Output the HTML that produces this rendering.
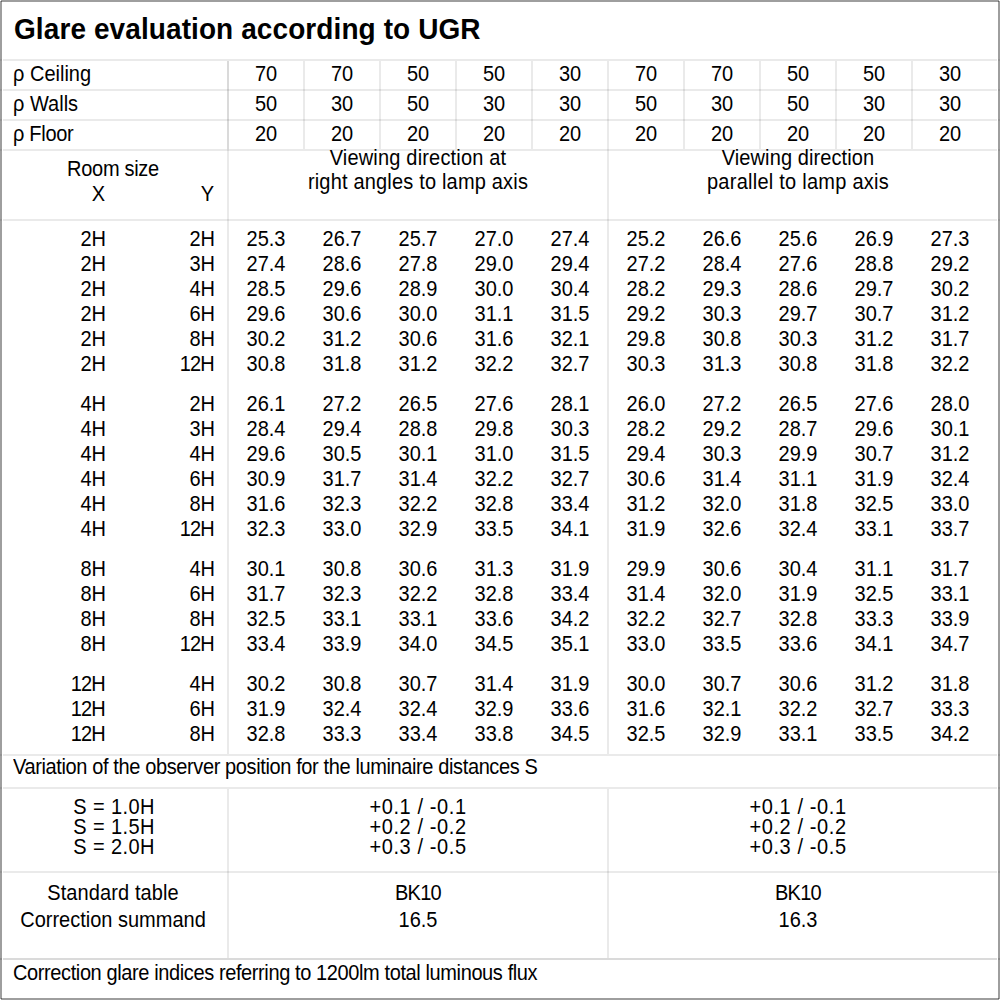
<!DOCTYPE html>
<html><head><meta charset="utf-8"><title>Glare evaluation according to UGR</title>
<style>
html,body{margin:0;padding:0;background:#fff;}
body{width:1000px;height:1000px;position:relative;overflow:hidden;}
i{position:absolute;display:block;}
.t{position:absolute;font-family:"Liberation Sans",sans-serif;font-weight:normal;font-size:20px;line-height:20px;color:#000;white-space:nowrap;transform:scaleY(1.07);transform-origin:0 17px;}
.ttl{font-weight:bold;font-size:28px;line-height:28px;letter-spacing:0.09px;transform:scaleY(1.04);transform-origin:0 23px;}
</style></head>
<body>
<i style="left:1px;top:0;width:998px;height:2px;background:rgba(0,0,0,0.38)"></i>
<i style="left:0;top:1px;width:2px;height:998px;background:rgba(0,0,0,0.38)"></i>
<i style="left:998px;top:1px;width:2px;height:998px;background:rgba(0,0,0,0.38)"></i>
<i style="left:1px;top:998px;width:998px;height:2px;background:rgba(0,0,0,0.38)"></i>
<i style="left:3px;top:59px;width:994px;height:2px;background:rgba(0,0,0,0.082)"></i>
<i style="left:0px;top:59px;width:2px;height:2px;background:rgba(0,0,0,0.082)"></i>
<i style="left:998px;top:59px;width:2px;height:2px;background:rgba(0,0,0,0.082)"></i>
<i style="left:3px;top:89px;width:994px;height:2px;background:rgba(0,0,0,0.082)"></i>
<i style="left:0px;top:89px;width:2px;height:2px;background:rgba(0,0,0,0.082)"></i>
<i style="left:998px;top:89px;width:2px;height:2px;background:rgba(0,0,0,0.082)"></i>
<i style="left:3px;top:119px;width:994px;height:2px;background:rgba(0,0,0,0.082)"></i>
<i style="left:0px;top:119px;width:2px;height:2px;background:rgba(0,0,0,0.082)"></i>
<i style="left:998px;top:119px;width:2px;height:2px;background:rgba(0,0,0,0.082)"></i>
<i style="left:3px;top:149px;width:994px;height:2px;background:rgba(0,0,0,0.082)"></i>
<i style="left:0px;top:149px;width:2px;height:2px;background:rgba(0,0,0,0.082)"></i>
<i style="left:998px;top:149px;width:2px;height:2px;background:rgba(0,0,0,0.082)"></i>
<i style="left:3px;top:219px;width:994px;height:2px;background:rgba(0,0,0,0.082)"></i>
<i style="left:0px;top:219px;width:2px;height:2px;background:rgba(0,0,0,0.082)"></i>
<i style="left:998px;top:219px;width:2px;height:2px;background:rgba(0,0,0,0.082)"></i>
<i style="left:3px;top:754px;width:994px;height:2px;background:rgba(0,0,0,0.082)"></i>
<i style="left:0px;top:754px;width:2px;height:2px;background:rgba(0,0,0,0.082)"></i>
<i style="left:998px;top:754px;width:2px;height:2px;background:rgba(0,0,0,0.082)"></i>
<i style="left:3px;top:787px;width:994px;height:2px;background:rgba(0,0,0,0.082)"></i>
<i style="left:0px;top:787px;width:2px;height:2px;background:rgba(0,0,0,0.082)"></i>
<i style="left:998px;top:787px;width:2px;height:2px;background:rgba(0,0,0,0.082)"></i>
<i style="left:3px;top:871px;width:994px;height:2px;background:rgba(0,0,0,0.082)"></i>
<i style="left:0px;top:871px;width:2px;height:2px;background:rgba(0,0,0,0.082)"></i>
<i style="left:998px;top:871px;width:2px;height:2px;background:rgba(0,0,0,0.082)"></i>
<i style="left:3px;top:958px;width:994px;height:2px;background:rgba(0,0,0,0.145)"></i>
<i style="left:0px;top:958px;width:2px;height:2px;background:rgba(0,0,0,0.145)"></i>
<i style="left:998px;top:958px;width:2px;height:2px;background:rgba(0,0,0,0.145)"></i>
<i style="left:303px;top:61px;width:2px;height:88px;background:rgba(0,0,0,0.082)"></i>
<i style="left:379px;top:61px;width:2px;height:88px;background:rgba(0,0,0,0.082)"></i>
<i style="left:455px;top:61px;width:2px;height:88px;background:rgba(0,0,0,0.082)"></i>
<i style="left:531px;top:61px;width:2px;height:88px;background:rgba(0,0,0,0.082)"></i>
<i style="left:683px;top:61px;width:2px;height:88px;background:rgba(0,0,0,0.082)"></i>
<i style="left:759px;top:61px;width:2px;height:88px;background:rgba(0,0,0,0.082)"></i>
<i style="left:835px;top:61px;width:2px;height:88px;background:rgba(0,0,0,0.082)"></i>
<i style="left:911px;top:61px;width:2px;height:88px;background:rgba(0,0,0,0.082)"></i>
<i style="left:227px;top:61px;width:2px;height:88px;background:rgba(0,0,0,0.145)"></i>
<i style="left:227px;top:149px;width:2px;height:605px;background:rgba(0,0,0,0.082)"></i>
<i style="left:607px;top:61px;width:2px;height:693px;background:rgba(0,0,0,0.082)"></i>
<i style="left:227px;top:789px;width:2px;height:169px;background:rgba(0,0,0,0.082)"></i>
<i style="left:607px;top:789px;width:2px;height:169px;background:rgba(0,0,0,0.082)"></i>
<b class="t ttl" style="left:14px;top:16px">Glare evaluation according to UGR</b>
<b class="t" style="left:13px;top:64px">ρ Ceiling</b>
<b class="t" style="left:116px;top:64px;width:300px;text-align:center">70</b>
<b class="t" style="left:192px;top:64px;width:300px;text-align:center">70</b>
<b class="t" style="left:268px;top:64px;width:300px;text-align:center">50</b>
<b class="t" style="left:344px;top:64px;width:300px;text-align:center">50</b>
<b class="t" style="left:420px;top:64px;width:300px;text-align:center">30</b>
<b class="t" style="left:496px;top:64px;width:300px;text-align:center">70</b>
<b class="t" style="left:572px;top:64px;width:300px;text-align:center">70</b>
<b class="t" style="left:648px;top:64px;width:300px;text-align:center">50</b>
<b class="t" style="left:724px;top:64px;width:300px;text-align:center">50</b>
<b class="t" style="left:800px;top:64px;width:300px;text-align:center">30</b>
<b class="t" style="left:13px;top:94px">ρ Walls</b>
<b class="t" style="left:116px;top:94px;width:300px;text-align:center">50</b>
<b class="t" style="left:192px;top:94px;width:300px;text-align:center">30</b>
<b class="t" style="left:268px;top:94px;width:300px;text-align:center">50</b>
<b class="t" style="left:344px;top:94px;width:300px;text-align:center">30</b>
<b class="t" style="left:420px;top:94px;width:300px;text-align:center">30</b>
<b class="t" style="left:496px;top:94px;width:300px;text-align:center">50</b>
<b class="t" style="left:572px;top:94px;width:300px;text-align:center">30</b>
<b class="t" style="left:648px;top:94px;width:300px;text-align:center">50</b>
<b class="t" style="left:724px;top:94px;width:300px;text-align:center">30</b>
<b class="t" style="left:800px;top:94px;width:300px;text-align:center">30</b>
<b class="t" style="left:13px;top:124px;letter-spacing:-0.3px">ρ Floor</b>
<b class="t" style="left:116px;top:124px;width:300px;text-align:center">20</b>
<b class="t" style="left:192px;top:124px;width:300px;text-align:center">20</b>
<b class="t" style="left:268px;top:124px;width:300px;text-align:center">20</b>
<b class="t" style="left:344px;top:124px;width:300px;text-align:center">20</b>
<b class="t" style="left:420px;top:124px;width:300px;text-align:center">20</b>
<b class="t" style="left:496px;top:124px;width:300px;text-align:center">20</b>
<b class="t" style="left:572px;top:124px;width:300px;text-align:center">20</b>
<b class="t" style="left:648px;top:124px;width:300px;text-align:center">20</b>
<b class="t" style="left:724px;top:124px;width:300px;text-align:center">20</b>
<b class="t" style="left:800px;top:124px;width:300px;text-align:center">20</b>
<b class="t" style="left:-37px;top:159px;width:300px;text-align:center;letter-spacing:-0.3px">Room size</b>
<b class="t" style="left:-45px;top:184px;width:150px;text-align:right">X</b>
<b class="t" style="left:64px;top:184px;width:150px;text-align:right">Y</b>
<b class="t" style="left:268px;top:148px;width:300px;text-align:center;letter-spacing:0.18px">Viewing direction at</b>
<b class="t" style="left:268px;top:172px;width:300px;text-align:center;letter-spacing:0.18px">right angles to lamp axis</b>
<b class="t" style="left:648px;top:148px;width:300px;text-align:center;letter-spacing:0.1px">Viewing direction</b>
<b class="t" style="left:648px;top:172px;width:300px;text-align:center;letter-spacing:0.25px">parallel to lamp axis</b>
<b class="t" style="left:-44px;top:229px;width:150px;text-align:right">2H</b>
<b class="t" style="left:65px;top:229px;width:150px;text-align:right">2H</b>
<b class="t" style="left:116px;top:229px;width:300px;text-align:center">25.3</b>
<b class="t" style="left:192px;top:229px;width:300px;text-align:center">26.7</b>
<b class="t" style="left:268px;top:229px;width:300px;text-align:center">25.7</b>
<b class="t" style="left:344px;top:229px;width:300px;text-align:center">27.0</b>
<b class="t" style="left:420px;top:229px;width:300px;text-align:center">27.4</b>
<b class="t" style="left:496px;top:229px;width:300px;text-align:center">25.2</b>
<b class="t" style="left:572px;top:229px;width:300px;text-align:center">26.6</b>
<b class="t" style="left:648px;top:229px;width:300px;text-align:center">25.6</b>
<b class="t" style="left:724px;top:229px;width:300px;text-align:center">26.9</b>
<b class="t" style="left:800px;top:229px;width:300px;text-align:center">27.3</b>
<b class="t" style="left:-44px;top:254px;width:150px;text-align:right">2H</b>
<b class="t" style="left:65px;top:254px;width:150px;text-align:right">3H</b>
<b class="t" style="left:116px;top:254px;width:300px;text-align:center">27.4</b>
<b class="t" style="left:192px;top:254px;width:300px;text-align:center">28.6</b>
<b class="t" style="left:268px;top:254px;width:300px;text-align:center">27.8</b>
<b class="t" style="left:344px;top:254px;width:300px;text-align:center">29.0</b>
<b class="t" style="left:420px;top:254px;width:300px;text-align:center">29.4</b>
<b class="t" style="left:496px;top:254px;width:300px;text-align:center">27.2</b>
<b class="t" style="left:572px;top:254px;width:300px;text-align:center">28.4</b>
<b class="t" style="left:648px;top:254px;width:300px;text-align:center">27.6</b>
<b class="t" style="left:724px;top:254px;width:300px;text-align:center">28.8</b>
<b class="t" style="left:800px;top:254px;width:300px;text-align:center">29.2</b>
<b class="t" style="left:-44px;top:279px;width:150px;text-align:right">2H</b>
<b class="t" style="left:65px;top:279px;width:150px;text-align:right">4H</b>
<b class="t" style="left:116px;top:279px;width:300px;text-align:center">28.5</b>
<b class="t" style="left:192px;top:279px;width:300px;text-align:center">29.6</b>
<b class="t" style="left:268px;top:279px;width:300px;text-align:center">28.9</b>
<b class="t" style="left:344px;top:279px;width:300px;text-align:center">30.0</b>
<b class="t" style="left:420px;top:279px;width:300px;text-align:center">30.4</b>
<b class="t" style="left:496px;top:279px;width:300px;text-align:center">28.2</b>
<b class="t" style="left:572px;top:279px;width:300px;text-align:center">29.3</b>
<b class="t" style="left:648px;top:279px;width:300px;text-align:center">28.6</b>
<b class="t" style="left:724px;top:279px;width:300px;text-align:center">29.7</b>
<b class="t" style="left:800px;top:279px;width:300px;text-align:center">30.2</b>
<b class="t" style="left:-44px;top:304px;width:150px;text-align:right">2H</b>
<b class="t" style="left:65px;top:304px;width:150px;text-align:right">6H</b>
<b class="t" style="left:116px;top:304px;width:300px;text-align:center">29.6</b>
<b class="t" style="left:192px;top:304px;width:300px;text-align:center">30.6</b>
<b class="t" style="left:268px;top:304px;width:300px;text-align:center">30.0</b>
<b class="t" style="left:344px;top:304px;width:300px;text-align:center">31.1</b>
<b class="t" style="left:420px;top:304px;width:300px;text-align:center">31.5</b>
<b class="t" style="left:496px;top:304px;width:300px;text-align:center">29.2</b>
<b class="t" style="left:572px;top:304px;width:300px;text-align:center">30.3</b>
<b class="t" style="left:648px;top:304px;width:300px;text-align:center">29.7</b>
<b class="t" style="left:724px;top:304px;width:300px;text-align:center">30.7</b>
<b class="t" style="left:800px;top:304px;width:300px;text-align:center">31.2</b>
<b class="t" style="left:-44px;top:329px;width:150px;text-align:right">2H</b>
<b class="t" style="left:65px;top:329px;width:150px;text-align:right">8H</b>
<b class="t" style="left:116px;top:329px;width:300px;text-align:center">30.2</b>
<b class="t" style="left:192px;top:329px;width:300px;text-align:center">31.2</b>
<b class="t" style="left:268px;top:329px;width:300px;text-align:center">30.6</b>
<b class="t" style="left:344px;top:329px;width:300px;text-align:center">31.6</b>
<b class="t" style="left:420px;top:329px;width:300px;text-align:center">32.1</b>
<b class="t" style="left:496px;top:329px;width:300px;text-align:center">29.8</b>
<b class="t" style="left:572px;top:329px;width:300px;text-align:center">30.8</b>
<b class="t" style="left:648px;top:329px;width:300px;text-align:center">30.3</b>
<b class="t" style="left:724px;top:329px;width:300px;text-align:center">31.2</b>
<b class="t" style="left:800px;top:329px;width:300px;text-align:center">31.7</b>
<b class="t" style="left:-44px;top:354px;width:150px;text-align:right">2H</b>
<b class="t" style="left:64px;top:354px;width:150px;text-align:right;letter-spacing:-0.8px">12H</b>
<b class="t" style="left:116px;top:354px;width:300px;text-align:center">30.8</b>
<b class="t" style="left:192px;top:354px;width:300px;text-align:center">31.8</b>
<b class="t" style="left:268px;top:354px;width:300px;text-align:center">31.2</b>
<b class="t" style="left:344px;top:354px;width:300px;text-align:center">32.2</b>
<b class="t" style="left:420px;top:354px;width:300px;text-align:center">32.7</b>
<b class="t" style="left:496px;top:354px;width:300px;text-align:center">30.3</b>
<b class="t" style="left:572px;top:354px;width:300px;text-align:center">31.3</b>
<b class="t" style="left:648px;top:354px;width:300px;text-align:center">30.8</b>
<b class="t" style="left:724px;top:354px;width:300px;text-align:center">31.8</b>
<b class="t" style="left:800px;top:354px;width:300px;text-align:center">32.2</b>
<b class="t" style="left:-44px;top:394px;width:150px;text-align:right">4H</b>
<b class="t" style="left:65px;top:394px;width:150px;text-align:right">2H</b>
<b class="t" style="left:116px;top:394px;width:300px;text-align:center">26.1</b>
<b class="t" style="left:192px;top:394px;width:300px;text-align:center">27.2</b>
<b class="t" style="left:268px;top:394px;width:300px;text-align:center">26.5</b>
<b class="t" style="left:344px;top:394px;width:300px;text-align:center">27.6</b>
<b class="t" style="left:420px;top:394px;width:300px;text-align:center">28.1</b>
<b class="t" style="left:496px;top:394px;width:300px;text-align:center">26.0</b>
<b class="t" style="left:572px;top:394px;width:300px;text-align:center">27.2</b>
<b class="t" style="left:648px;top:394px;width:300px;text-align:center">26.5</b>
<b class="t" style="left:724px;top:394px;width:300px;text-align:center">27.6</b>
<b class="t" style="left:800px;top:394px;width:300px;text-align:center">28.0</b>
<b class="t" style="left:-44px;top:419px;width:150px;text-align:right">4H</b>
<b class="t" style="left:65px;top:419px;width:150px;text-align:right">3H</b>
<b class="t" style="left:116px;top:419px;width:300px;text-align:center">28.4</b>
<b class="t" style="left:192px;top:419px;width:300px;text-align:center">29.4</b>
<b class="t" style="left:268px;top:419px;width:300px;text-align:center">28.8</b>
<b class="t" style="left:344px;top:419px;width:300px;text-align:center">29.8</b>
<b class="t" style="left:420px;top:419px;width:300px;text-align:center">30.3</b>
<b class="t" style="left:496px;top:419px;width:300px;text-align:center">28.2</b>
<b class="t" style="left:572px;top:419px;width:300px;text-align:center">29.2</b>
<b class="t" style="left:648px;top:419px;width:300px;text-align:center">28.7</b>
<b class="t" style="left:724px;top:419px;width:300px;text-align:center">29.6</b>
<b class="t" style="left:800px;top:419px;width:300px;text-align:center">30.1</b>
<b class="t" style="left:-44px;top:444px;width:150px;text-align:right">4H</b>
<b class="t" style="left:65px;top:444px;width:150px;text-align:right">4H</b>
<b class="t" style="left:116px;top:444px;width:300px;text-align:center">29.6</b>
<b class="t" style="left:192px;top:444px;width:300px;text-align:center">30.5</b>
<b class="t" style="left:268px;top:444px;width:300px;text-align:center">30.1</b>
<b class="t" style="left:344px;top:444px;width:300px;text-align:center">31.0</b>
<b class="t" style="left:420px;top:444px;width:300px;text-align:center">31.5</b>
<b class="t" style="left:496px;top:444px;width:300px;text-align:center">29.4</b>
<b class="t" style="left:572px;top:444px;width:300px;text-align:center">30.3</b>
<b class="t" style="left:648px;top:444px;width:300px;text-align:center">29.9</b>
<b class="t" style="left:724px;top:444px;width:300px;text-align:center">30.7</b>
<b class="t" style="left:800px;top:444px;width:300px;text-align:center">31.2</b>
<b class="t" style="left:-44px;top:469px;width:150px;text-align:right">4H</b>
<b class="t" style="left:65px;top:469px;width:150px;text-align:right">6H</b>
<b class="t" style="left:116px;top:469px;width:300px;text-align:center">30.9</b>
<b class="t" style="left:192px;top:469px;width:300px;text-align:center">31.7</b>
<b class="t" style="left:268px;top:469px;width:300px;text-align:center">31.4</b>
<b class="t" style="left:344px;top:469px;width:300px;text-align:center">32.2</b>
<b class="t" style="left:420px;top:469px;width:300px;text-align:center">32.7</b>
<b class="t" style="left:496px;top:469px;width:300px;text-align:center">30.6</b>
<b class="t" style="left:572px;top:469px;width:300px;text-align:center">31.4</b>
<b class="t" style="left:648px;top:469px;width:300px;text-align:center">31.1</b>
<b class="t" style="left:724px;top:469px;width:300px;text-align:center">31.9</b>
<b class="t" style="left:800px;top:469px;width:300px;text-align:center">32.4</b>
<b class="t" style="left:-44px;top:494px;width:150px;text-align:right">4H</b>
<b class="t" style="left:65px;top:494px;width:150px;text-align:right">8H</b>
<b class="t" style="left:116px;top:494px;width:300px;text-align:center">31.6</b>
<b class="t" style="left:192px;top:494px;width:300px;text-align:center">32.3</b>
<b class="t" style="left:268px;top:494px;width:300px;text-align:center">32.2</b>
<b class="t" style="left:344px;top:494px;width:300px;text-align:center">32.8</b>
<b class="t" style="left:420px;top:494px;width:300px;text-align:center">33.4</b>
<b class="t" style="left:496px;top:494px;width:300px;text-align:center">31.2</b>
<b class="t" style="left:572px;top:494px;width:300px;text-align:center">32.0</b>
<b class="t" style="left:648px;top:494px;width:300px;text-align:center">31.8</b>
<b class="t" style="left:724px;top:494px;width:300px;text-align:center">32.5</b>
<b class="t" style="left:800px;top:494px;width:300px;text-align:center">33.0</b>
<b class="t" style="left:-44px;top:519px;width:150px;text-align:right">4H</b>
<b class="t" style="left:64px;top:519px;width:150px;text-align:right;letter-spacing:-0.8px">12H</b>
<b class="t" style="left:116px;top:519px;width:300px;text-align:center">32.3</b>
<b class="t" style="left:192px;top:519px;width:300px;text-align:center">33.0</b>
<b class="t" style="left:268px;top:519px;width:300px;text-align:center">32.9</b>
<b class="t" style="left:344px;top:519px;width:300px;text-align:center">33.5</b>
<b class="t" style="left:420px;top:519px;width:300px;text-align:center">34.1</b>
<b class="t" style="left:496px;top:519px;width:300px;text-align:center">31.9</b>
<b class="t" style="left:572px;top:519px;width:300px;text-align:center">32.6</b>
<b class="t" style="left:648px;top:519px;width:300px;text-align:center">32.4</b>
<b class="t" style="left:724px;top:519px;width:300px;text-align:center">33.1</b>
<b class="t" style="left:800px;top:519px;width:300px;text-align:center">33.7</b>
<b class="t" style="left:-44px;top:559px;width:150px;text-align:right">8H</b>
<b class="t" style="left:65px;top:559px;width:150px;text-align:right">4H</b>
<b class="t" style="left:116px;top:559px;width:300px;text-align:center">30.1</b>
<b class="t" style="left:192px;top:559px;width:300px;text-align:center">30.8</b>
<b class="t" style="left:268px;top:559px;width:300px;text-align:center">30.6</b>
<b class="t" style="left:344px;top:559px;width:300px;text-align:center">31.3</b>
<b class="t" style="left:420px;top:559px;width:300px;text-align:center">31.9</b>
<b class="t" style="left:496px;top:559px;width:300px;text-align:center">29.9</b>
<b class="t" style="left:572px;top:559px;width:300px;text-align:center">30.6</b>
<b class="t" style="left:648px;top:559px;width:300px;text-align:center">30.4</b>
<b class="t" style="left:724px;top:559px;width:300px;text-align:center">31.1</b>
<b class="t" style="left:800px;top:559px;width:300px;text-align:center">31.7</b>
<b class="t" style="left:-44px;top:584px;width:150px;text-align:right">8H</b>
<b class="t" style="left:65px;top:584px;width:150px;text-align:right">6H</b>
<b class="t" style="left:116px;top:584px;width:300px;text-align:center">31.7</b>
<b class="t" style="left:192px;top:584px;width:300px;text-align:center">32.3</b>
<b class="t" style="left:268px;top:584px;width:300px;text-align:center">32.2</b>
<b class="t" style="left:344px;top:584px;width:300px;text-align:center">32.8</b>
<b class="t" style="left:420px;top:584px;width:300px;text-align:center">33.4</b>
<b class="t" style="left:496px;top:584px;width:300px;text-align:center">31.4</b>
<b class="t" style="left:572px;top:584px;width:300px;text-align:center">32.0</b>
<b class="t" style="left:648px;top:584px;width:300px;text-align:center">31.9</b>
<b class="t" style="left:724px;top:584px;width:300px;text-align:center">32.5</b>
<b class="t" style="left:800px;top:584px;width:300px;text-align:center">33.1</b>
<b class="t" style="left:-44px;top:609px;width:150px;text-align:right">8H</b>
<b class="t" style="left:65px;top:609px;width:150px;text-align:right">8H</b>
<b class="t" style="left:116px;top:609px;width:300px;text-align:center">32.5</b>
<b class="t" style="left:192px;top:609px;width:300px;text-align:center">33.1</b>
<b class="t" style="left:268px;top:609px;width:300px;text-align:center">33.1</b>
<b class="t" style="left:344px;top:609px;width:300px;text-align:center">33.6</b>
<b class="t" style="left:420px;top:609px;width:300px;text-align:center">34.2</b>
<b class="t" style="left:496px;top:609px;width:300px;text-align:center">32.2</b>
<b class="t" style="left:572px;top:609px;width:300px;text-align:center">32.7</b>
<b class="t" style="left:648px;top:609px;width:300px;text-align:center">32.8</b>
<b class="t" style="left:724px;top:609px;width:300px;text-align:center">33.3</b>
<b class="t" style="left:800px;top:609px;width:300px;text-align:center">33.9</b>
<b class="t" style="left:-44px;top:634px;width:150px;text-align:right">8H</b>
<b class="t" style="left:64px;top:634px;width:150px;text-align:right;letter-spacing:-0.8px">12H</b>
<b class="t" style="left:116px;top:634px;width:300px;text-align:center">33.4</b>
<b class="t" style="left:192px;top:634px;width:300px;text-align:center">33.9</b>
<b class="t" style="left:268px;top:634px;width:300px;text-align:center">34.0</b>
<b class="t" style="left:344px;top:634px;width:300px;text-align:center">34.5</b>
<b class="t" style="left:420px;top:634px;width:300px;text-align:center">35.1</b>
<b class="t" style="left:496px;top:634px;width:300px;text-align:center">33.0</b>
<b class="t" style="left:572px;top:634px;width:300px;text-align:center">33.5</b>
<b class="t" style="left:648px;top:634px;width:300px;text-align:center">33.6</b>
<b class="t" style="left:724px;top:634px;width:300px;text-align:center">34.1</b>
<b class="t" style="left:800px;top:634px;width:300px;text-align:center">34.7</b>
<b class="t" style="left:-45px;top:674px;width:150px;text-align:right;letter-spacing:-0.8px">12H</b>
<b class="t" style="left:65px;top:674px;width:150px;text-align:right">4H</b>
<b class="t" style="left:116px;top:674px;width:300px;text-align:center">30.2</b>
<b class="t" style="left:192px;top:674px;width:300px;text-align:center">30.8</b>
<b class="t" style="left:268px;top:674px;width:300px;text-align:center">30.7</b>
<b class="t" style="left:344px;top:674px;width:300px;text-align:center">31.4</b>
<b class="t" style="left:420px;top:674px;width:300px;text-align:center">31.9</b>
<b class="t" style="left:496px;top:674px;width:300px;text-align:center">30.0</b>
<b class="t" style="left:572px;top:674px;width:300px;text-align:center">30.7</b>
<b class="t" style="left:648px;top:674px;width:300px;text-align:center">30.6</b>
<b class="t" style="left:724px;top:674px;width:300px;text-align:center">31.2</b>
<b class="t" style="left:800px;top:674px;width:300px;text-align:center">31.8</b>
<b class="t" style="left:-45px;top:699px;width:150px;text-align:right;letter-spacing:-0.8px">12H</b>
<b class="t" style="left:65px;top:699px;width:150px;text-align:right">6H</b>
<b class="t" style="left:116px;top:699px;width:300px;text-align:center">31.9</b>
<b class="t" style="left:192px;top:699px;width:300px;text-align:center">32.4</b>
<b class="t" style="left:268px;top:699px;width:300px;text-align:center">32.4</b>
<b class="t" style="left:344px;top:699px;width:300px;text-align:center">32.9</b>
<b class="t" style="left:420px;top:699px;width:300px;text-align:center">33.6</b>
<b class="t" style="left:496px;top:699px;width:300px;text-align:center">31.6</b>
<b class="t" style="left:572px;top:699px;width:300px;text-align:center">32.1</b>
<b class="t" style="left:648px;top:699px;width:300px;text-align:center">32.2</b>
<b class="t" style="left:724px;top:699px;width:300px;text-align:center">32.7</b>
<b class="t" style="left:800px;top:699px;width:300px;text-align:center">33.3</b>
<b class="t" style="left:-45px;top:724px;width:150px;text-align:right;letter-spacing:-0.8px">12H</b>
<b class="t" style="left:65px;top:724px;width:150px;text-align:right">8H</b>
<b class="t" style="left:116px;top:724px;width:300px;text-align:center">32.8</b>
<b class="t" style="left:192px;top:724px;width:300px;text-align:center">33.3</b>
<b class="t" style="left:268px;top:724px;width:300px;text-align:center">33.4</b>
<b class="t" style="left:344px;top:724px;width:300px;text-align:center">33.8</b>
<b class="t" style="left:420px;top:724px;width:300px;text-align:center">34.5</b>
<b class="t" style="left:496px;top:724px;width:300px;text-align:center">32.5</b>
<b class="t" style="left:572px;top:724px;width:300px;text-align:center">32.9</b>
<b class="t" style="left:648px;top:724px;width:300px;text-align:center">33.1</b>
<b class="t" style="left:724px;top:724px;width:300px;text-align:center">33.5</b>
<b class="t" style="left:800px;top:724px;width:300px;text-align:center">34.2</b>
<b class="t" style="left:13px;top:757px;letter-spacing:-0.38px">Variation of the observer position for the luminaire distances S</b>
<b class="t" style="left:-36px;top:797px;width:300px;text-align:center;letter-spacing:0.4px">S = 1.0H</b>
<b class="t" style="left:268px;top:797px;width:300px;text-align:center;letter-spacing:0.6px">+0.1 / -0.1</b>
<b class="t" style="left:648px;top:797px;width:300px;text-align:center;letter-spacing:0.6px">+0.1 / -0.1</b>
<b class="t" style="left:-36px;top:817px;width:300px;text-align:center;letter-spacing:0.4px">S = 1.5H</b>
<b class="t" style="left:268px;top:817px;width:300px;text-align:center;letter-spacing:0.6px">+0.2 / -0.2</b>
<b class="t" style="left:648px;top:817px;width:300px;text-align:center;letter-spacing:0.6px">+0.2 / -0.2</b>
<b class="t" style="left:-36px;top:837px;width:300px;text-align:center;letter-spacing:0.4px">S = 2.0H</b>
<b class="t" style="left:268px;top:837px;width:300px;text-align:center;letter-spacing:0.6px">+0.3 / -0.5</b>
<b class="t" style="left:648px;top:837px;width:300px;text-align:center;letter-spacing:0.6px">+0.3 / -0.5</b>
<b class="t" style="left:-37px;top:883px;width:300px;text-align:center;letter-spacing:0.1px">Standard table</b>
<b class="t" style="left:-37px;top:910px;width:300px;text-align:center">Correction summand</b>
<b class="t" style="left:268px;top:883px;width:300px;text-align:center;letter-spacing:-0.7px">BK10</b>
<b class="t" style="left:268px;top:910px;width:300px;text-align:center">16.5</b>
<b class="t" style="left:648px;top:883px;width:300px;text-align:center;letter-spacing:-0.7px">BK10</b>
<b class="t" style="left:648px;top:910px;width:300px;text-align:center">16.3</b>
<b class="t" style="left:13px;top:963px;letter-spacing:-0.39px">Correction glare indices referring to 1200lm total luminous flux</b>
</body></html>
